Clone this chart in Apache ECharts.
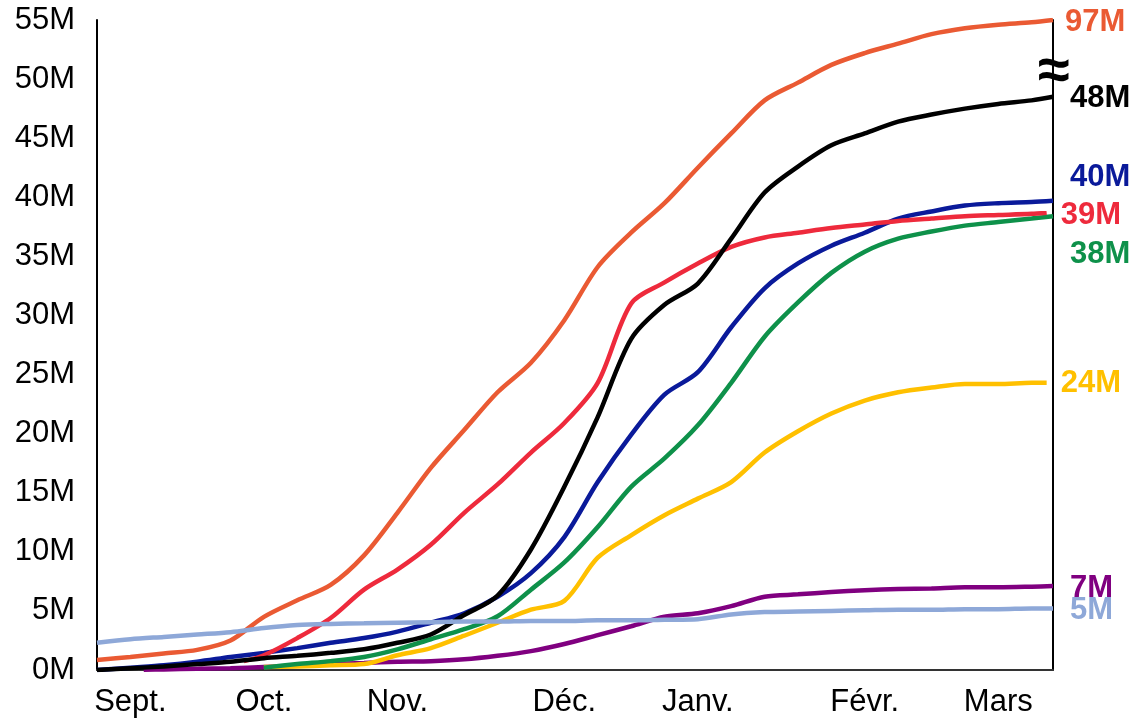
<!DOCTYPE html>
<html>
<head>
<meta charset="utf-8">
<script src="https://cdn.jsdelivr.net/npm/echarts@6/dist/echarts.min.js"></script>
<style>
  html, body { margin: 0; padding: 0; background: #fff; }
  #chart { width: 1134px; height: 718px; }
</style>
</head>
<body>
<div id="chart"></div>
<script>
// x in weeks from the first of September
const weeks = [0, 1, 1.4, 2, 3, 4, 4.4, 5, 6, 7, 8, 9, 10, 11, 12, 13, 14, 15, 16, 17, 18, 19, 20, 21, 22, 23, 24, 25, 26, 27, 28, 28.45, 28.64]
// month labels and the week they sit on
const months = ['Sept.', 'Oct.', 'Nov.', 'Déc.', 'Janv.', 'Févr.', 'Mars']
const monthWeeks = [1, 5, 9, 14, 18, 23, 27]
const yTicks = [0, 5, 10, 15, 20, 25, 30, 35, 40, 45, 50, 55]

// values in millions
const orange = [0.85, 1.1, null, 1.4, 1.7, 2.5, null, 4.5, 5.9, 7.2, 9.7, 13.3, 17.1, 20.3, 23.5, 26, 29.6, 34.1, 37, 39.5, 42.5, 45.4, 48.2, 49.7, 51.2, 52.2, 53, 53.8, 54.3, 54.6, 54.8, null, 55]
const black = [0, 0.15, null, 0.3, 0.5, 0.7, null, 1.0, 1.2, 1.45, 1.75, 2.3, 3.0, 4.65, 6.3, 10.2, 15.5, 21.4, 28, 30.9, 32.7, 36.5, 40.4, 42.6, 44.4, 45.4, 46.4, 47, 47.5, 47.9, 48.2, null, 48.5]
const red = [null, null, null, null, null, null, 0.75, 1.25, 2.7, 4.4, 6.8, 8.5, 10.6, 13.3, 15.7, 18.4, 20.9, 24.3, 31, 32.8, 34.4, 35.8, 36.6, 37, 37.4, 37.7, 38, 38.2, 38.4, 38.5, 38.6, 38.7, null]
const blue = [0, 0.2, null, 0.4, 0.7, 1.1, null, 1.45, 1.85, 2.3, 2.7, 3.25, 4.0, 4.8, 6.2, 8.2, 11.25, 15.9, 19.9, 23.3, 25.2, 29, 32.3, 34.4, 35.9, 37, 38.2, 38.8, 39.3, 39.5, 39.6, null, 39.7]
const green = [null, null, null, null, null, null, null, 0.2, 0.5, 0.75, 1.1, 1.75, 2.6, 3.45, 4.55, 6.8, 9.1, 12.1, 15.5, 17.9, 20.7, 24.3, 28.2, 31.1, 33.6, 35.4, 36.5, 37.1, 37.6, 37.9, 38.2, null, 38.4]
const yellow = [null, null, null, null, null, null, null, 0.25, 0.3, 0.4, 0.5, 1.25, 1.85, 2.9, 4.0, 5.1, 5.85, 9.5, 11.4, 13.1, 14.5, 15.9, 18.4, 20.2, 21.7, 22.8, 23.5, 23.9, 24.2, 24.2, 24.3, 24.3, null]
const purple = [null, null, 0.02, 0.05, 0.1, 0.15, null, 0.25, 0.35, 0.5, 0.6, 0.7, 0.75, 0.9, 1.2, 1.6, 2.2, 2.95, 3.7, 4.5, 4.8, 5.4, 6.2, 6.4, 6.6, 6.75, 6.85, 6.9, 7.0, 7.0, 7.05, null, 7.1]
const lightBlue = [2.3, 2.6, null, 2.8, 3.0, 3.2, null, 3.55, 3.8, 3.9, 3.95, 4.0, 4.05, 4.1, 4.1, 4.15, 4.15, 4.2, 4.2, 4.25, 4.3, 4.7, 4.9, 4.95, 5.0, 5.05, 5.1, 5.1, 5.15, 5.15, 5.2, null, 5.2]

// end labels
const endTexts = ['97M', '48M', '40M', '39M', '38M', '24M', '7M', '5M']

const font = 'Liberation Sans, Arial, sans-serif'

// styles of each line: colour and where its end label goes
const lineStyles = [
  { data: purple, color: '#800080', dist: 17, dy: 2 },
  { data: yellow, color: '#FFC000', dist: 14, dy: 1 },
  { data: green, color: '#0E914A', dist: 17, dy: 38 },
  { data: blue, color: '#0A1A9A', dist: 17, dy: -23 },
  { data: red, color: '#EE2A3C', dist: 14, dy: 3 },
  { data: black, color: '#000000', dist: 17, dy: 2 },
  { data: orange, color: '#EA5A33', dist: 12, dy: 2 },
  { data: lightBlue, color: '#8EA8D8', dist: 17, dy: 2 }
]
const labelOrder = [orange, black, blue, red, green, yellow, purple, lightBlue]

const chartInstance = echarts.init(document.getElementById('chart'))

const series = lineStyles.map(s => {
  return {
    type: 'line',
    data: weeks.map((w, i) => [w, s.data[i]]),
    connectNulls: true,
    showSymbol: false,
    smooth: 0.3,
    lineStyle: { color: s.color, width: 4.5 },
    itemStyle: { color: s.color },
    endLabel: {
      show: true,
      formatter: endTexts[labelOrder.indexOf(s.data)],
      color: s.color,
      fontFamily: font,
      fontWeight: 'bold',
      fontSize: 31,
      distance: s.dist,
      offset: [0, s.dy]
    }
  }
})

const option = {
  animation: false,
  backgroundColor: '#fff',
  grid: { left: 97, right: 81, top: 20, bottom: 48 },
  xAxis: {
    type: 'value',
    min: 0,
    max: weeks[weeks.length - 1],
    splitLine: { show: false },
    axisTick: { show: false },
    axisLine: { lineStyle: { color: '#333', width: 2 } },
    axisLabel: {
      customValues: monthWeeks,
      formatter: v => months[monthWeeks.indexOf(v)],
      color: '#000',
      fontFamily: font,
      fontSize: 31,
      margin: 17
    }
  },
  yAxis: [
    {
      type: 'value',
      min: yTicks[0],
      max: yTicks[yTicks.length - 1],
      interval: 5,
      splitLine: { show: false },
      axisTick: { show: false },
      axisLine: { show: true, lineStyle: { color: '#000', width: 2 } },
      axisLabel: {
        formatter: '{value}M',
        color: '#000',
        fontFamily: font,
        fontSize: 31,
        margin: 22,
        padding: [5, 0, 0, 0]
      }
    },
    {
      type: 'value',
      position: 'right',
      min: yTicks[0],
      max: yTicks[yTicks.length - 1],
      interval: 5,
      splitLine: { show: false },
      axisTick: { show: false },
      axisLabel: { show: false },
      axisLine: { show: true, lineStyle: { color: '#000', width: 2 } }
    }
  ],
  // axis break mark next to the orange line
  graphic: [
    {
      type: 'text',
      x: 1054,
      y: 73,
      style: {
        text: '≈',
        font: 'bold 58px ' + font,
        fill: '#000',
        align: 'center',
        verticalAlign: 'middle'
      }
    }
  ],
  series: series
}
chartInstance.setOption(option)
</script>
</body>
</html>
